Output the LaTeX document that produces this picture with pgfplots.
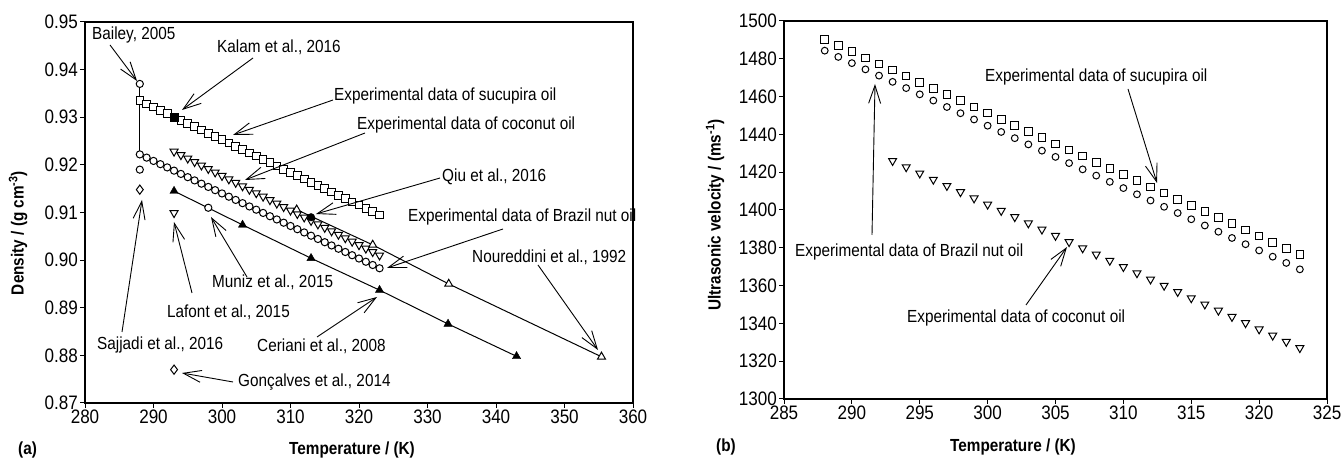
\documentclass[border=0pt]{standalone}
\usepackage{fontspec}
\setmainfont{Liberation Sans}[FakeStretch=0.875]
\usepackage{pgfplots}
\pgfplotsset{compat=1.18}
\usetikzlibrary{arrows.meta}
\begin{document}
\begin{tikzpicture}[font=\fontsize{17.5}{20}\selectfont]
\path[use as bounding box] (0,0) rectangle (1342pt,460pt);
\pgfplotsset{
  every axis/.append style={
    scale only axis, anchor=south west, tick pos=left, tick align=outside,
    major tick length=5pt, axis line style={line width=1.2pt},
    tick style={line width=1pt,black},
    /pgf/number format/assume math mode=true,
    /pgf/number format/1000 sep={},
    every tick label/.append style={font=\fontsize{19.5}{22}\selectfont},
    xticklabel style={inner sep=2pt},
    yticklabel style={inner sep=2pt},
  },
  osq/.style={only marks, mark=square*, mark size=3.8pt, mark options={fill=white, line width=1pt}},
  ocirc/.style={only marks, mark=*, mark size=3.6pt, mark options={fill=white, line width=1pt}},
  otri/.style={only marks, mark=triangle*, mark size=4.6pt, mark options={fill=white, rotate=180, line width=1pt}},
}
% ---------------- left panel ----------------
\begin{axis}[at={(85pt,57pt)}, width=548pt, height=381pt,
  xmin=280, xmax=360, ymin=0.87, ymax=0.95,
  xtick={280,290,300,310,320,330,340,350,360},
  ytick={0.87,0.88,0.89,0.90,0.91,0.92,0.93,0.94,0.95},
  yticklabel style={/pgf/number format/.cd, fixed, fixed zerofill, precision=2},
  clip=false]
% Bailey range line
\addplot[line width=1pt] coordinates {(288,0.937) (288,0.9222)};
% Ceriani et al., 2008 (line)
\addplot[line width=1pt] coordinates {(293,0.9145) (303,0.9074) (313,0.9004) (323,0.8937) (333,0.8866) (343,0.8798)};
% Noureddini et al., 1992 (line)
\addplot[line width=1pt] coordinates {(310.9,0.9106) (322.0,0.9032) (333.1,0.8950) (355.4,0.8797)};
% Sucupira oil
\addplot[osq] coordinates {
(288,0.93350)(289,0.93281)(290,0.93213)(291,0.93144)(292,0.93076)(293,0.93007)
(294,0.92938)(295,0.92870)(296,0.92801)(297,0.92733)(298,0.92664)(299,0.92595)
(300,0.92527)(301,0.92458)(302,0.92390)(303,0.92321)(304,0.92252)(305,0.92184)
(306,0.92115)(307,0.92047)(308,0.91978)(309,0.91909)(310,0.91841)(311,0.91772)
(312,0.91704)(313,0.91635)(314,0.91566)(315,0.91498)(316,0.91429)(317,0.91361)
(318,0.91292)(319,0.91223)(320,0.91155)(321,0.91086)(322,0.91018)(323,0.90949)};
\addplot[densely dotted, line width=1.1pt] coordinates {(288,0.93350)(323,0.90949)};
% Coconut oil
\addplot[otri] coordinates {
(293,0.92280)(294,0.92207)(295,0.92135)(296,0.92062)(297,0.91989)(298,0.91917)
(299,0.91844)(300,0.91771)(301,0.91698)(302,0.91626)(303,0.91553)(304,0.91480)
(305,0.91408)(306,0.91335)(307,0.91262)(308,0.91190)(309,0.91117)(310,0.91044)
(311,0.90971)(312,0.90899)(313,0.90826)(314,0.90753)(315,0.90681)(316,0.90608)
(317,0.90535)(318,0.90463)(319,0.90390)(320,0.90317)(321,0.90244)(322,0.90172)
(323,0.90099)};
% Brazil nut oil
\addplot[ocirc] coordinates {
(288,0.92220)(289,0.92152)(290,0.92083)(291,0.92015)(292,0.91947)(293,0.91879)
(294,0.91810)(295,0.91742)(296,0.91674)(297,0.91605)(298,0.91537)(299,0.91469)
(300,0.91400)(301,0.91332)(302,0.91264)(303,0.91196)(304,0.91127)(305,0.91059)
(306,0.90991)(307,0.90922)(308,0.90854)(309,0.90786)(310,0.90717)(311,0.90649)
(312,0.90581)(313,0.90513)(314,0.90444)(315,0.90376)(316,0.90308)(317,0.90239)
(318,0.90171)(319,0.90103)(320,0.90034)(321,0.89966)(322,0.89898)(323,0.89829)};
% Ceriani markers
\addplot[only marks, mark=triangle*, mark size=4.8pt, mark options={fill=black}] coordinates {(293,0.9145) (303,0.9074) (313,0.9004) (323,0.8937) (333,0.8866) (343,0.8798)};
% Noureddini markers
\addplot[only marks, mark=triangle*, mark size=4.6pt, mark options={fill=white, line width=1pt}] coordinates {(310.9,0.9106) (322.0,0.9032) (333.1,0.8950) (355.4,0.8797)};
% Bailey
\addplot[ocirc] coordinates {(288,0.937) (288,0.919)};
% Muniz
\addplot[ocirc] coordinates {(298,0.911)};
% Kalam
\addplot[only marks, mark=square*, mark size=4pt, mark options={fill=black}] coordinates {(293,0.9300)};
% Qiu
\addplot[only marks, mark=*, mark size=3.8pt, mark options={fill=black}] coordinates {(313,0.9090)};
% Lafont
\addplot[otri] coordinates {(293,0.9099)};
% Sajjadi, Goncalves
\addplot[only marks, mark=diamond*, mark size=4.6pt, mark options={fill=white, line width=1pt}] coordinates {(288,0.9148) (293,0.8770)};
\end{axis}
% ---------------- right panel ----------------
\begin{axis}[at={(784pt,61pt)}, width=543pt, height=378pt,
  xmin=285, xmax=325, ymin=1300, ymax=1500,
  xtick={285,290,295,300,305,310,315,320,325},
  ytick={1300,1320,1340,1360,1380,1400,1420,1440,1460,1480,1500}]
\addplot[osq] coordinates {
(288,1490.3)(289,1487.0)(290,1483.8)(291,1480.5)(292,1477.3)(293,1474.0)
(294,1470.8)(295,1467.5)(296,1464.3)(297,1461.0)(298,1457.8)(299,1454.5)
(300,1451.3)(301,1448.0)(302,1444.7)(303,1441.5)(304,1438.2)(305,1435.0)
(306,1431.7)(307,1428.5)(308,1425.2)(309,1422.0)(310,1418.7)(311,1415.5)
(312,1412.2)(313,1409.0)(314,1405.7)(315,1402.5)(316,1399.2)(317,1395.9)
(318,1392.7)(319,1389.4)(320,1386.2)(321,1382.9)(322,1379.7)(323,1376.4)};
\addplot[ocirc, mark size=3.4pt] coordinates {
(288,1484.3)(289,1481.0)(290,1477.7)(291,1474.4)(292,1471.1)(293,1467.8)
(294,1464.5)(295,1461.2)(296,1457.9)(297,1454.5)(298,1451.2)(299,1447.9)
(300,1444.6)(301,1441.3)(302,1438.0)(303,1434.7)(304,1431.4)(305,1428.1)
(306,1424.8)(307,1421.5)(308,1418.2)(309,1414.9)(310,1411.6)(311,1408.3)
(312,1405.0)(313,1401.7)(314,1398.4)(315,1395.1)(316,1391.8)(317,1388.5)
(318,1385.2)(319,1381.9)(320,1378.6)(321,1375.3)(322,1372.0)(323,1368.6)};
\addplot[otri] coordinates {
(293,1426.0)(294,1422.7)(295,1419.4)(296,1416.1)(297,1412.8)(298,1409.5)
(299,1406.2)(300,1402.9)(301,1399.6)(302,1396.3)(303,1393.0)(304,1389.7)
(305,1386.4)(306,1383.1)(307,1379.8)(308,1376.5)(309,1373.2)(310,1369.9)
(311,1366.6)(312,1363.3)(313,1360.0)(314,1356.7)(315,1353.4)(316,1350.1)
(317,1346.8)(318,1343.5)(319,1340.2)(320,1336.9)(321,1333.6)(322,1330.3)
(323,1327.0)};
\end{axis}
% ---------------- annotations (pixel coordinates) ----------------
\begin{scope}[x=1pt, y=-1pt, yshift=460pt,
  ar/.style={line width=0.9pt, -{Straight Barb[length=18pt,width=12pt,line width=0.9pt]}},
  lb/.style={anchor=west, inner sep=0pt}]
\node[lb] at (92,35) {Bailey, 2005};
\draw[ar] (110,45) -- (137,81);
\node[lb] at (217,47) {Kalam et al., 2016};
\draw[ar] (253,58) -- (182,110);
\node[lb] at (334,96) {Experimental data of sucupira oil};
\draw[ar] (333,100) -- (233,135);
\node[lb] at (357,125) {Experimental data of coconut oil};
\draw[ar] (365,133) -- (245,180);
\node[lb] at (442,177) {Qiu et al., 2016};
\draw[ar] (440,178) -- (316,214);
\node[lb] at (408,217) {Experimental data of Brazil nut oil};
\draw[ar] (503,229) -- (387,268);
\node[lb] at (472,257) {Noureddini et al., 1992};
\draw[ar] (538,265) -- (598,350);
\node[lb] at (212,282) {Muniz et al., 2015};
\draw[ar] (247,277) -- (211,217);
\node[lb] at (167,312) {Lafont et al., 2015};
\draw[ar] (192,293) -- (174,222);
\node[lb] at (97,345) {Sajjadi et al., 2016};
\draw[ar] (122,332) -- (142,200);
\node[lb] at (257,346) {Ceriani et al., 2008};
\draw[ar] (317,337) -- (377,297);
\node[lb] at (238,382) {Gonçalves et al., 2014};
\draw[ar] (233,382) -- (182,373);
% right
\node[lb] at (985,77) {Experimental data of sucupira oil};
\draw[ar] (1128,89) -- (1157,183);
\node[lb] at (795,252) {Experimental data of Brazil nut oil};
\draw[ar] (872,235) -- (875,84);
\node[lb] at (907,318) {Experimental data of coconut oil};
\draw[ar] (1026,305) -- (1067,247);
% axis labels
\node[font=\fontsize{17.5}{20}\selectfont\bfseries, rotate=90] at (18,233) {Density / (g cm\textsuperscript{-3})};
\node[font=\fontsize{17.5}{20}\selectfont\bfseries] at (352,450) {Temperature / (K)};
\node[font=\fontsize{17.5}{20}\selectfont\bfseries, rotate=90] at (715,215) {Ultrasonic velocity / (ms\textsuperscript{-1})};
\node[font=\fontsize{17.5}{20}\selectfont\bfseries] at (1013,447) {Temperature / (K)};
\node[font=\fontsize{17.5}{20}\selectfont\bfseries, anchor=west, inner sep=0pt] at (18,450) {(a)};
\node[font=\fontsize{17.5}{20}\selectfont\bfseries, anchor=west, inner sep=0pt] at (716,447) {(b)};
\end{scope}
\end{tikzpicture}
\end{document}
